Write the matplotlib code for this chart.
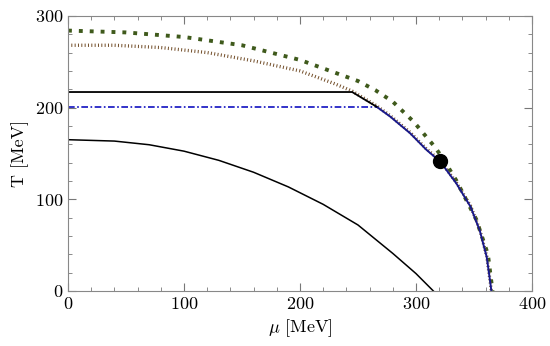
import matplotlib
matplotlib.use("Agg")
import matplotlib.pyplot as plt
from matplotlib.ticker import MultipleLocator

plt.rcParams['font.family'] = 'serif'
plt.rcParams['font.serif'] = ['cmr10', 'DejaVu Serif']
plt.rcParams['mathtext.fontset'] = 'cm'
plt.rcParams['axes.formatter.use_mathtext'] = True

# upper (green) curve
mu_green = [0, 50, 100, 150, 200, 250, 265, 280, 298, 316, 323, 335, 352, 362, 366]
T_green = [284, 282, 277, 268, 252, 229, 219, 206.5, 184.6, 157.5, 145, 120, 78, 40, 0]

# brown dotted curve (joins the boundary)
mu_brown = [0, 40, 80, 120, 160, 200, 230, 245, 266, 278, 295, 309, 321, 335, 347, 355, 361, 364, 365]
T_brown = [268, 268, 265.5, 260, 251, 240, 226, 218, 202, 191, 173, 155, 142, 118, 93, 67, 38, 10, 0]

# solid phase boundary
mu_bound = [266, 278, 295, 309, 321, 335, 347, 355, 361, 364, 365]
T_bound = [201, 190, 172, 154, 141, 117, 92, 66, 37, 10, 0]

# black horizontal + kink
mu_black = [0, 245, 266]
T_black = [217, 217, 201]

# blue dash-dot horizontal
mu_blue = [0, 266]
T_blue = [201, 201]

# lower black curve
mu_low = [0, 40, 70, 100, 130, 160, 190, 220, 250, 280, 300, 315]
T_low = [165, 163.5, 159.5, 152.5, 142.5, 129.5, 113.5, 94.5, 72, 41, 19, 0]

# critical point
mu_cp = [320.5]
T_cp = [142]

fig = plt.figure(figsize=(5.5, 3.46), dpi=100)
ax = fig.add_axes([0.1236, 0.159, 0.8436, 0.795])

ax.plot(mu_green, T_green, color='#3f5a1c', lw=2.8, ls=(0, (1.0, 1.8)))
ax.plot(mu_brown, T_brown, color='#74502c', lw=2.4, ls=(0, (0.3, 0.7)))
ax.plot(mu_blue, T_blue, color='#1010c0', lw=1.2, ls=(0, (4, 1.5, 1, 1.5)))
ax.plot(mu_bound, T_bound, color='#18188a', lw=1.4)
ax.plot(mu_black, T_black, color='black', lw=1.3)
ax.plot(mu_low, T_low, color='black', lw=1.1)
ax.plot(mu_cp, T_cp, 'o', color='black', ms=10)

ax.set_xlim(0, 400)
ax.set_ylim(0, 300)
ax.xaxis.set_major_locator(MultipleLocator(100))
ax.xaxis.set_minor_locator(MultipleLocator(20))
ax.yaxis.set_major_locator(MultipleLocator(100))
ax.yaxis.set_minor_locator(MultipleLocator(20))
ax.tick_params(which='both', direction='in', top=True, right=True,
               color='#777777', labelsize=13)
ax.tick_params(which='major', length=6)
ax.tick_params(which='minor', length=3)
for s in ax.spines.values():
    s.set_color('#888888')

ax.set_xlabel(r'$\mu$ [MeV]', fontsize=13)
ax.set_ylabel('T [MeV]', fontsize=13)

fig.savefig('out.png', dpi=100)
